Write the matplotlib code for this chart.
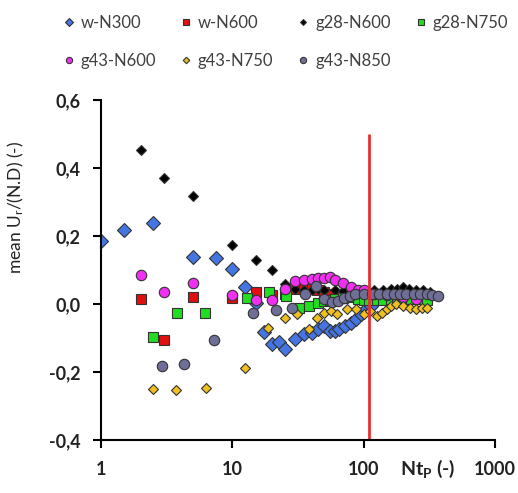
import numpy as np
import matplotlib
matplotlib.use("Agg")
import matplotlib.pyplot as plt

# --- data ---
w300_x = [1.0, 1.5, 2.5, 5.0, 7.5, 10, 12.5, 15, 17.5, 20, 22.5, 25, 30, 35, 40, 45, 50, 55, 60,
          65, 72, 80, 87, 95, 104, 113]
w300_y = [0.185, 0.218, 0.238, 0.138, 0.135, 0.103, 0.05, 0.003, -0.082, -0.117, -0.112, -0.132,
          -0.103, -0.088, -0.085, -0.074, -0.065, -0.079, -0.079, -0.074, -0.065, -0.056, -0.044,
          -0.029, -0.015, -0.006]

w600_x = [2.0, 3.0, 5.0, 10, 15, 20, 25, 30, 35, 40, 45, 50, 55]
w600_y = [0.015, -0.105, 0.02, 0.018, 0.036, 0.026, 0.03, 0.045, 0.05, 0.045, 0.04, 0.035, 0.03]

g28_600_x = [2.0, 3.0, 5.0, 10, 15, 20, 25, 30, 35, 40, 45, 50, 60, 70, 80, 90, 100, 120, 140,
             160, 180, 200, 220, 250, 280, 320]
g28_600_y = [0.453, 0.371, 0.318, 0.174, 0.129, 0.100, 0.059, 0.045, 0.04, 0.04, 0.045, 0.042,
             0.04, 0.038, 0.04, 0.04, 0.042, 0.04, 0.042, 0.045, 0.045, 0.05, 0.045, 0.042, 0.04,
             0.035]

g28_750_x = [2.5, 3.8, 6.2, 12.9, 19.1, 25.8, 32, 38, 44.5, 50, 55, 60, 70, 80, 90, 100, 110,
             125, 140, 160, 180, 200, 230, 260, 300]
g28_750_y = [-0.097, -0.026, -0.026, 0.018, 0.036, 0.024, -0.012, -0.006, 0.003, 0.008, 0.012,
             0.015, 0.018, 0.02, 0.015, 0.012, 0.012, 0.012, 0.012, 0.012, 0.015, 0.015, 0.015,
             0.015, 0.012]

g43_600_x = [2.0, 3.0, 5.0, 10, 15, 20, 25, 30, 35, 40, 45, 50, 55, 60, 70, 80, 90, 100, 120,
             150, 200, 250]
g43_600_y = [0.085, 0.035, 0.062, 0.026, 0.012, 0.012, 0.044, 0.068, 0.07, 0.072, 0.076, 0.076,
             0.078, 0.07, 0.062, 0.05, 0.04, 0.04, 0.03, 0.025, 0.02, 0.015]

g43_750_x = [2.5, 3.75, 6.25, 12.5, 18.75, 25, 31, 38, 44, 50, 56, 62, 75, 87, 100, 112, 125,
             137, 150, 162, 175, 200, 225, 250, 275, 300]
g43_750_y = [-0.25, -0.253, -0.247, -0.188, -0.07, -0.04, -0.03, -0.073, -0.04, -0.027, -0.022,
             -0.03, -0.015, -0.015, -0.03, -0.02, -0.035, -0.027, -0.015, -0.006, 0.0, -0.006,
             -0.012, -0.015, -0.012, -0.012]

g43_850_x = [2.9, 4.3, 7.2, 14.3, 21.4, 28.6, 35.7, 42.9, 50, 57, 64, 71, 79, 86, 100, 115, 130,
             150, 170, 190, 210, 240, 270, 300, 330, 367]
g43_850_y = [-0.183, -0.177, -0.106, -0.026, -0.018, -0.012, 0.03, 0.053, 0.015, 0.005, 0.01,
             0.018, 0.024, 0.03, 0.03, 0.03, 0.03, 0.028, 0.03, 0.03, 0.03, 0.03, 0.028, 0.028,
             0.026, 0.024]

threshold = 110

series = [
    ("w-N300", w300_x, w300_y, "D", "#4575e0", 7.5),
    ("w-N600", w600_x, w600_y, "s", "#e01010", 7.0),
    ("g28-N600", g28_600_x, g28_600_y, "D", "#000000", 5.0),
    ("g28-N750", g28_750_x, g28_750_y, "s", "#22dd22", 6.5),
    ("g43-N600", g43_600_x, g43_600_y, "o", "#f030f0", 7.5),
    ("g43-N750", g43_750_x, g43_750_y, "D", "#f0c020", 5.5),
    ("g43-N850", g43_850_x, g43_850_y, "o", "#6e6e96", 7.5),
]

plt.rcParams['font.family'] = ['Lato', 'DejaVu Sans']
plt.rcParams['mathtext.default'] = 'regular'

fig = plt.figure(figsize=(5.18, 4.93), dpi=100)
ax = fig.add_axes([0.195, 0.1075, 0.761, 0.690])

handles = []
for label, xs, ys, mk, col, ms in series:
    h, = ax.plot(xs, ys, linestyle="none", marker=mk, markersize=ms,
                 markerfacecolor=col, markeredgecolor="#333333", markeredgewidth=0.8,
                 label=label)
    handles.append(h)

ax.vlines(threshold, -0.4, 0.5, color="#e83030", linewidth=2)

ax.set_xscale("log")
ax.set_xlim(1, 1000)
ax.set_ylim(-0.4, 0.6)
ax.set_xticks([1, 10, 100, 1000])
ax.set_xticklabels(["1", "10", "100", "1000"])
ax.xaxis.set_minor_locator(matplotlib.ticker.NullLocator())
yt = np.arange(-0.4, 0.61, 0.2)
ax.set_yticks(yt)
ax.set_yticklabels([f"{v:.1f}".replace(".", ",").replace("-0,0", "0,0") for v in yt])

for s in ["top", "right"]:
    ax.spines[s].set_visible(False)
for s in ["left", "bottom"]:
    ax.spines[s].set_linewidth(1.5)
ax.tick_params(direction="out", length=6, width=1.5, labelsize=13, pad=9,
               labelcolor="#222222")
for lab in ax.get_xticklabels() + ax.get_yticklabels():
    lab.set_fontweight("bold")

ax.set_ylabel("mean U$_r$/(N.D) (-)", fontsize=12.5, color="#222222")
ax.yaxis.set_label_coords(-0.19, 0.685)
ax.text(0.83, -0.085, "Nt$_P$ (-)", transform=ax.transAxes, ha="center", va="center",
        fontsize=14, fontweight="bold", color="#222222")

order = [0, 4, 1, 5, 2, 6, 3]
leg = fig.legend([handles[i] for i in order], [series[i][0] for i in order],
                 loc="upper left", bbox_to_anchor=(0.085, 1.0), ncol=4, frameon=False,
                 fontsize=12, handletextpad=0.1, columnspacing=1.2, labelspacing=1.3,
                 handlelength=1.2, markerscale=0.6)
for t in leg.get_texts():
    t.set_color("#404040")

fig.savefig("out.png", dpi=100)
